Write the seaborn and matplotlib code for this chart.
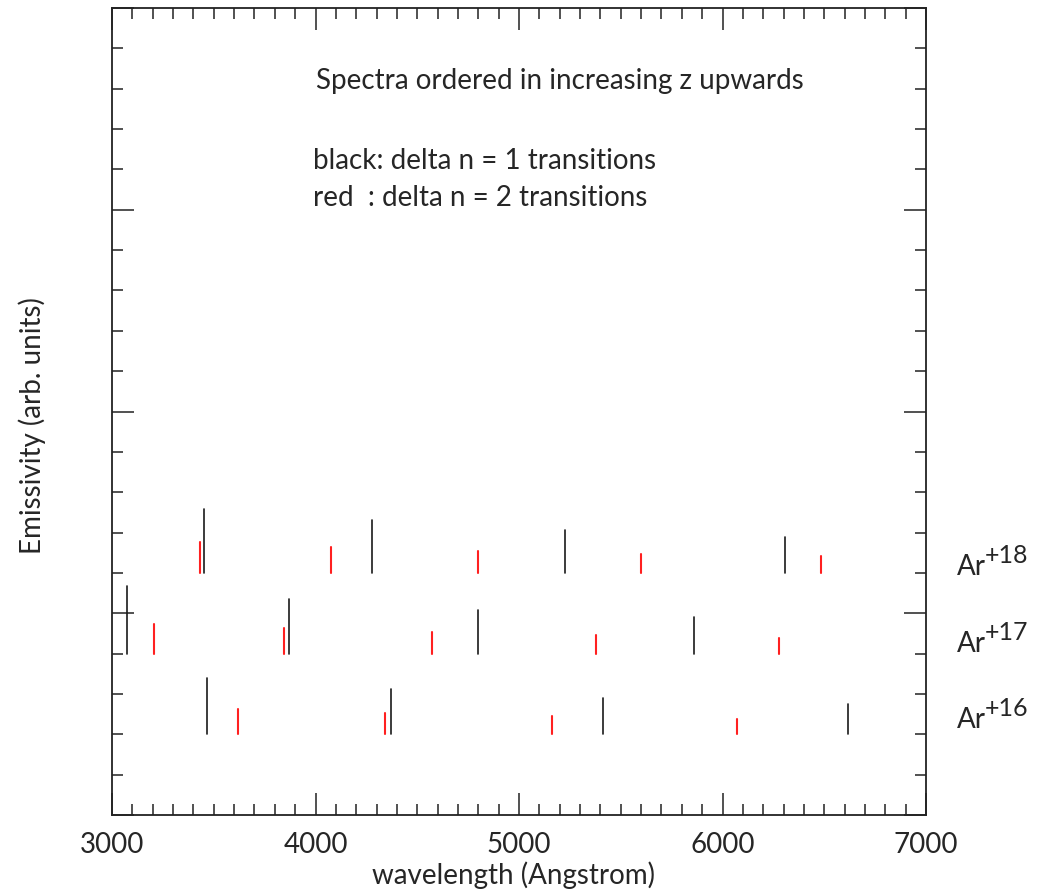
import numpy as np
import pandas as pd
import matplotlib
matplotlib.use("Agg")
import matplotlib.pyplot as plt
import matplotlib.transforms as mtransforms
from matplotlib.ticker import MultipleLocator, NullFormatter
import seaborn as sns

# Line wavelengths (Angstrom) and peak emissivities (arb. units) per ion
ions = ["Ar+16", "Ar+17", "Ar+18"]
ion_labels = ["+16", "+17", "+18"]
baselines = [2.0, 4.0, 6.0]

ar16_dn1_wl = [3467, 4369, 5414, 6615]
ar16_dn1_em = [1.40, 1.12, 0.90, 0.75]
ar16_dn2_wl = [3619, 4343, 5160, 6071]
ar16_dn2_em = [0.64, 0.54, 0.46, 0.39]

ar17_dn1_wl = [3072, 3870, 4797, 5860]
ar17_dn1_em = [1.68, 1.35, 1.09, 0.90]
ar17_dn2_wl = [3205, 3847, 4571, 5380, 6276]
ar17_dn2_em = [0.74, 0.63, 0.53, 0.46, 0.40]

ar18_dn1_wl = [3453, 4279, 5228, 6307]
ar18_dn1_em = [1.59, 1.30, 1.06, 0.89]
ar18_dn2_wl = [3432, 4078, 4798, 5598, 6484]
ar18_dn2_em = [0.76, 0.64, 0.55, 0.48, 0.41]

x_ticks = [3000, 4000, 5000, 6000, 7000]

spectra = {
    "Ar+16": [(ar16_dn1_wl, ar16_dn1_em, "dn1"), (ar16_dn2_wl, ar16_dn2_em, "dn2")],
    "Ar+17": [(ar17_dn1_wl, ar17_dn1_em, "dn1"), (ar17_dn2_wl, ar17_dn2_em, "dn2")],
    "Ar+18": [(ar18_dn1_wl, ar18_dn1_em, "dn1"), (ar18_dn2_wl, ar18_dn2_em, "dn2")],
}

# Long-form table: each emission line is a vertical segment from the
# spectrum baseline up to baseline + emissivity
rows = []
line_id = 0
for ion, base in zip(ions, baselines):
    for wl, em, kind in spectra[ion]:
        for w, e in zip(wl, em):
            rows.append({"wavelength": w, "emissivity": base, "line": line_id, "kind": kind})
            rows.append({"wavelength": w, "emissivity": base + e, "line": line_id, "kind": kind})
            line_id += 1
df = pd.DataFrame(rows)

sns.set_theme(style="ticks")
plt.rcParams["font.family"] = ["Lato", "DejaVu Sans"]
plt.rcParams["mathtext.default"] = "regular"

fig = plt.figure(figsize=(10.48, 8.93), dpi=100)
fig.patch.set_facecolor("white")
ax = fig.add_axes([0.1069, 0.0873, 0.7767, 0.9037])
ax.set_facecolor("white")

sns.lineplot(
    data=df, x="wavelength", y="emissivity", units="line", estimator=None,
    hue="kind", palette={"dn1": "#1a1a1a", "dn2": "#ff2020"},
    size="kind", sizes={"dn1": 1.2, "dn2": 1.5},
    sort=False, legend=False, ax=ax,
)

ax.set_xlim(3000, 7000)
ax.set_ylim(0, 20)
ax.set_xticks(x_ticks)
ax.set_xticklabels([str(t) for t in x_ticks])
ax.xaxis.set_minor_locator(MultipleLocator(100))
ax.yaxis.set_major_locator(MultipleLocator(5))
ax.yaxis.set_minor_locator(MultipleLocator(1))
ax.yaxis.set_major_formatter(NullFormatter())

ax.tick_params(which="both", direction="in", top=True, right=True,
               color="#333333", width=1.2, labelsize=20, pad=12)
ax.tick_params(which="major", length=16)
ax.tick_params(which="minor", length=8)
for side in ax.spines.values():
    side.set_color("#222222")
    side.set_linewidth(1.3)

ax.set_xlabel("wavelength (Angstrom)", fontsize=20)
ax.xaxis.set_label_coords(0.493, -0.058)
ax.set_ylabel("Emissivity (arb. units)", fontsize=20)
ax.yaxis.set_label_coords(-0.081, 0.483)

ax.text(4000, 18.0, "Spectra ordered in increasing z upwards", fontsize=20, va="baseline")
ax.text(3988, 16.0, "black: delta n = 1 transitions", fontsize=20, va="baseline")
ax.text(3988, 15.1, "red  : delta n = 2 transitions", fontsize=20, va="baseline")

label_y = [2.15, 4.05, 5.95]
sup = mtransforms.offset_copy(ax.transData, fig=fig, x=20.5, y=8.5, units="points")
for lab, y in zip(ion_labels, label_y):
    ax.text(7150, y, "Ar", fontsize=20, va="baseline", clip_on=False)
    ax.text(7150, y, lab, fontsize=18, va="baseline", transform=sup, clip_on=False)

fig.savefig("out.png", dpi=100, facecolor="white")
